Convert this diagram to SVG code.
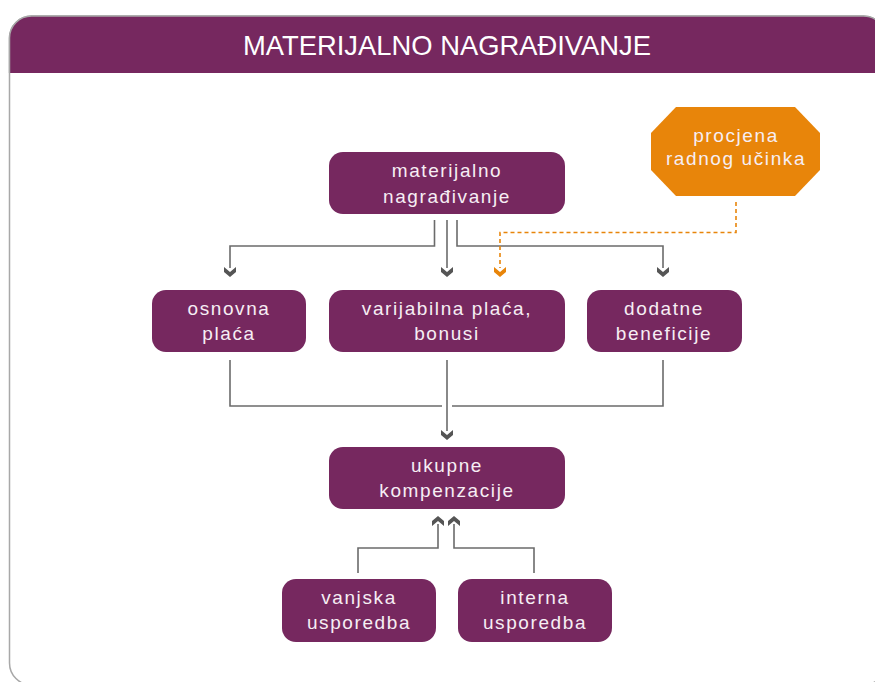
<svg xmlns="http://www.w3.org/2000/svg" width="875" height="682" viewBox="0 0 875 682">
<style>
.node{fill:#76285f}
.lbl{font-family:"Liberation Sans",Arial,sans-serif;font-size:19px;letter-spacing:1.6px;fill:#f6eef4;text-anchor:middle}
.ln{fill:none;stroke:#6b6b6b;stroke-width:1.6}
.dash{fill:none;stroke:#e8850a;stroke-width:1.6;stroke-dasharray:4 3}
.title{font-family:"Liberation Sans",Arial,sans-serif;font-size:28px;fill:#ffffff;text-anchor:middle}
</style>
<defs>
<path id="chev" d="M-6,-10 L0,-5 L6,-10 L6,-5 L0,0 L-6,-5 Z"/>
</defs>
<rect x="9.5" y="16" width="876" height="669" rx="22" fill="#ffffff" stroke="#a8a8a8" stroke-width="1.5"/>
<path d="M9.5,73 V38 A22,22 0 0 1 31.5,16 H863.5 A22,22 0 0 1 885.5,38 V73 Z" fill="#76285f"/>
<path d="M9.5,73 V38 A22,22 0 0 1 31.5,16 H863.5 A22,22 0 0 1 885.5,38" fill="none" stroke="#a8a8a8" stroke-width="1.5"/>
<text class="title" x="447" y="55" textLength="408" lengthAdjust="spacingAndGlyphs">MATERIJALNO NAGRAĐIVANJE</text>

<g id="connectors">
<path class="ln" d="M434.5,220 V246 H230 V268"/>
<path class="ln" d="M447,220 V268"/>
<path class="ln" d="M457,220 V246 H663 V268"/>
<path class="dash" d="M736,202 V232.5 H500 V268"/>
<path class="ln" d="M230,360 V406 H442"/>
<path class="ln" d="M447,360 V431"/>
<path class="ln" d="M663,360 V406 H452"/>
<path class="ln" d="M358,573 V548 H438 V524"/>
<path class="ln" d="M534,573 V548 H454 V524"/>
<use href="#chev" x="230" y="277" fill="#555"/>
<use href="#chev" x="447" y="277" fill="#555"/>
<use href="#chev" x="663" y="277" fill="#555"/>
<use href="#chev" x="500" y="277" fill="#e8850a"/>
<use href="#chev" x="447" y="440" fill="#555"/>
<use href="#chev" transform="translate(438,516) rotate(180)" fill="#555"/>
<use href="#chev" transform="translate(454,516) rotate(180)" fill="#555"/>
</g>

<g id="n-materijalno">
<rect class="node" x="329" y="152" width="236" height="62" rx="14"/>
<text class="lbl" x="447" y="177">materijalno</text>
<text class="lbl" x="447" y="203">nagrađivanje</text>
</g>
<g id="n-procjena">
<polygon points="676,107 795,107 820,133 820,170 795,196 676,196 651,170 651,133" fill="#e8850a"/>
<text class="lbl" x="736" y="142">procjena</text>
<text class="lbl" x="736" y="165">radnog učinka</text>
</g>
<g id="n-osnovna">
<rect class="node" x="152" y="290" width="154" height="62" rx="14"/>
<text class="lbl" x="229" y="315">osnovna</text>
<text class="lbl" x="229" y="340">plaća</text>
</g>
<g id="n-varijabilna">
<rect class="node" x="329" y="290" width="236" height="62" rx="14"/>
<text class="lbl" x="447" y="315">varijabilna plaća,</text>
<text class="lbl" x="447" y="340">bonusi</text>
</g>
<g id="n-dodatne">
<rect class="node" x="587" y="290" width="155" height="62" rx="14"/>
<text class="lbl" x="664" y="315">dodatne</text>
<text class="lbl" x="664" y="340">beneficije</text>
</g>
<g id="n-ukupne">
<rect class="node" x="329" y="447" width="236" height="62" rx="14"/>
<text class="lbl" x="447" y="472">ukupne</text>
<text class="lbl" x="447" y="497">kompenzacije</text>
</g>
<g id="n-vanjska">
<rect class="node" x="282" y="579" width="154" height="63" rx="14"/>
<text class="lbl" x="359" y="604">vanjska</text>
<text class="lbl" x="359" y="629">usporedba</text>
</g>
<g id="n-interna">
<rect class="node" x="458" y="579" width="154" height="63" rx="14"/>
<text class="lbl" x="535" y="604">interna</text>
<text class="lbl" x="535" y="629">usporedba</text>
</g>
</svg>
